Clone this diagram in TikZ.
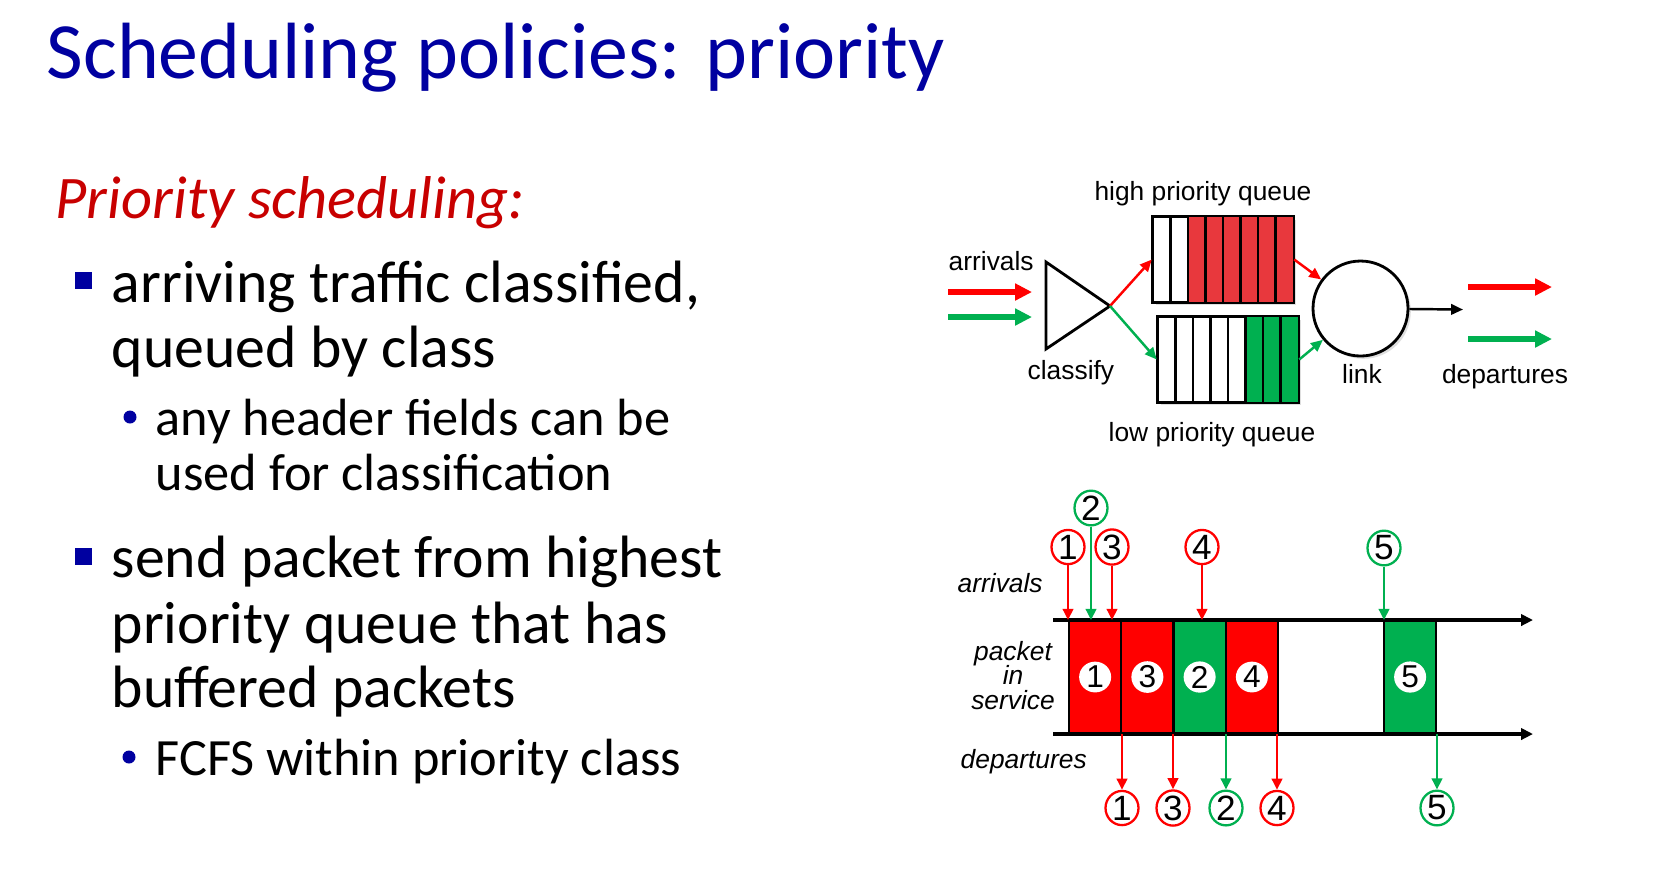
\documentclass[tikz,border=0pt]{standalone}
\usepackage{fontspec}
\setmainfont{Carlito}
\newfontfamily\arialfont{Liberation Sans}
\usetikzlibrary{arrows.meta,shapes.geometric,shadows}
\definecolor{titleblue}{RGB}{0,0,160}
\definecolor{headred}{RGB}{200,0,0}
\definecolor{qred}{RGB}{232,56,61}
\definecolor{pred}{RGB}{255,0,0}
\definecolor{pgreen}{RGB}{0,176,80}

\tikzset{
	txt/.style={anchor=base west, inner sep=0},
	lvlone/.style={txt, font=\fontsize{17}{20}\selectfont},
	lvltwo/.style={txt, font=\fontsize{14.9}{18}\selectfont},
	lbl/.style={anchor=base, inner sep=0, font=\arialfont\fontsize{7.5}{9}\selectfont},
	ilbl/.style={lbl, font=\arialfont\itshape\fontsize{7.5}{9}\selectfont},
	numc/.style={ellipse, draw=#1, line width=0.65pt, fill=white, minimum width=3.3mm, minimum height=3.1mm, inner sep=0, font=\arialfont\fontsize{10}{10}\selectfont},
	innum/.style={ellipse, fill=white, minimum width=3.2mm, minimum height=2.8mm, inner sep=0, font=\arialfont\fontsize{9}{9}\selectfont},
	fatarrow/.style={line width=1.5pt, -{Triangle[length=4.8pt,width=4.6pt]}},
	thinarrow/.style={line width=0.7pt, -{Triangle[length=3.4pt,width=3pt]}},
	timearrow/.style={line width=0.7pt, -{Triangle[length=3.2pt,width=3pt]}},
	axisarrow/.style={line width=1pt, -{Triangle[length=3.4pt,width=3.2pt]}},
	qshadow/.style={drop shadow={opacity=0.25,shadow xshift=0.8pt,shadow yshift=-0.8pt}},
	bullet/.style={fill=titleblue}
}

\begin{document}
\begin{tikzpicture}[x=0.1mm,y=-0.1mm]
		\useasboundingbox (0,0) rectangle (1664,884);
		\fill[white] (0,0) rectangle (1664,884);
		\node[txt, font=\fontsize{22.7}{27}\selectfont, text=titleblue] (title) at (46,78) {Scheduling policies: priority};
		\node[txt, font=\itshape\fontsize{17.2}{20}\selectfont, text=headred] (head) at (55,218) {Priority scheduling:};
		\fill[bullet] (75,272) rectangle (92,289);
		\node[lvlone] (l1) at (111,302) {arriving traffic classified,};
		\node[lvlone] (l2) at (111,367) {queued by class};
		\fill[bullet] (130,417) circle (6.5);
		\node[lvltwo] (l3) at (155,435) {any header fields can be};
		\node[lvltwo] (l4) at (155,490) {used for classification};
		\fill[bullet] (75,548) rectangle (92,565);
		\node[lvlone] (l5) at (111,577) {send packet from highest};
		\node[lvlone] (l6) at (111,643) {priority queue that has};
		\node[lvlone] (l7) at (111,707) {buffered packets};
		\fill[bullet] (129,757) circle (6.5);
		\node[lvltwo] (l8) at (155,775) {FCFS within priority class};

		\coordinate (inr0) at (948,292);
		\coordinate (inr1) at (1032,292);
		\coordinate (ing0) at (948,317);
		\coordinate (ing1) at (1032,317);
		\draw[fatarrow, pred] (inr0) -- (inr1);
		\draw[fatarrow, pgreen] (ing0) -- (ing1);
		\node[lbl, anchor=base west] (arr) at (948,270) {arrivals};
		\draw[line width=0.8pt, fill=white] (1046,262) -- (1110,306) -- (1046,349) -- cycle;
		\coordinate (cls) at (1110,306);
		\node[lbl, anchor=base west] (clsl) at (1027,379) {classify};

		\node[draw, line width=0.7pt, fill=white, minimum width=14mm, minimum height=8.5mm, inner sep=0, qshadow] (hiq) at (1223,259.5) {};
		\foreach \i in {2,...,7}
		\fill[qred] ({1153+17.5*\i},217) rectangle ++(17.5,85);
		\foreach \i in {1,...,7}
		\draw[line width=0.7pt] ({1153+17.5*\i},217) -- ++(0,85);
		\draw[line width=0.7pt] (hiq.south west) rectangle (hiq.north east);
		\node[lbl] (hiql) at (1203,200) {high priority queue};

		\node[draw, line width=0.7pt, fill=white, minimum width=14mm, minimum height=8.5mm, inner sep=0, qshadow] (loq) at (1228,359.5) {};
		\foreach \i in {5,6,7}
		\fill[pgreen] ({1158+17.5*\i},317) rectangle ++(17.5,85);
		\foreach \i in {1,...,7}
		\draw[line width=0.7pt] ({1158+17.5*\i},317) -- ++(0,85);
		\draw[line width=0.7pt] (loq.south west) rectangle (loq.north east);
		\node[lbl] (loql) at (1212,441) {low priority queue};

		\node[circle, draw, line width=0.8pt, fill=white, minimum size=9.5mm, inner sep=0, qshadow] (link) at (1360.5,308.5) {};
		\node[lbl] (linkl) at (1362,383) {link};
		\coordinate (linkout) at (1463,309.5);
		\draw[thinarrow, pred] (cls) -- (hiq.west);
		\draw[thinarrow, pgreen] (cls) -- (loq.west);
		\draw[thinarrow, pred] (hiq.east) -- (link);
		\draw[thinarrow, pgreen] (loq.east) -- (link);
		\draw[thinarrow, black] (link) -- (linkout);

		\coordinate (outr0) at (1468,287);
		\coordinate (outr1) at (1552,287);
		\coordinate (outg0) at (1468,339);
		\coordinate (outg1) at (1552,339);
		\draw[fatarrow, pred] (outr0) -- (outr1);
		\draw[fatarrow, pgreen] (outg0) -- (outg1);
		\node[lbl] (dep) at (1505,383) {departures};

		\foreach \x/\c/\n in {1069/pred/1, 1121.25/pred/3, 1173.5/pgreen/2, 1225.75/pred/4, 1384/pgreen/5}{
			\filldraw[fill=\c, line width=0.7pt] (\x,620) rectangle ++(52.25,114);
			\node[innum] (s\n) at ({\x+26.125},677) {\n};
		}
		\coordinate (tl) at (1053,620);
		\coordinate (tr) at (1533,620);
		\coordinate (bl) at (1053,734);
		\coordinate (br) at (1533,734);
		\draw[axisarrow] (tl) -- (tr);
		\draw[axisarrow] (bl) -- (br);

		\foreach \x/\y/\c/\n in {1068/547/pred/1, 1091/508/pgreen/2, 1112/547/pred/3, 1202/547/pred/4, 1384/548/pgreen/5}{
			\node[numc=\c] (a\n) at (\x,\y) {\n};
			\draw[timearrow, \c] (a\n) -- (a\n |- tl);
		}
		\foreach \x/\c/\n in {1122/pred/1, 1173/pred/3, 1226/pgreen/2, 1277/pred/4, 1437/pgreen/5}{
			\node[numc=\c] (d\n) at (\x,808) {\n};
			\draw[timearrow, \c] (d\n |- bl) -- (d\n);
		}

		\node[ilbl, anchor=base west] (arrt) at (957,592) {arrivals};
		\node[ilbl] (pk1) at (1013,660) {packet};
		\node[ilbl] (pk2) at (1013,684) {in};
		\node[ilbl] (pk3) at (1013,709) {service};
		\node[ilbl, anchor=base west] (dept) at (960,768) {departures};
	\end{tikzpicture}
\end{document}
